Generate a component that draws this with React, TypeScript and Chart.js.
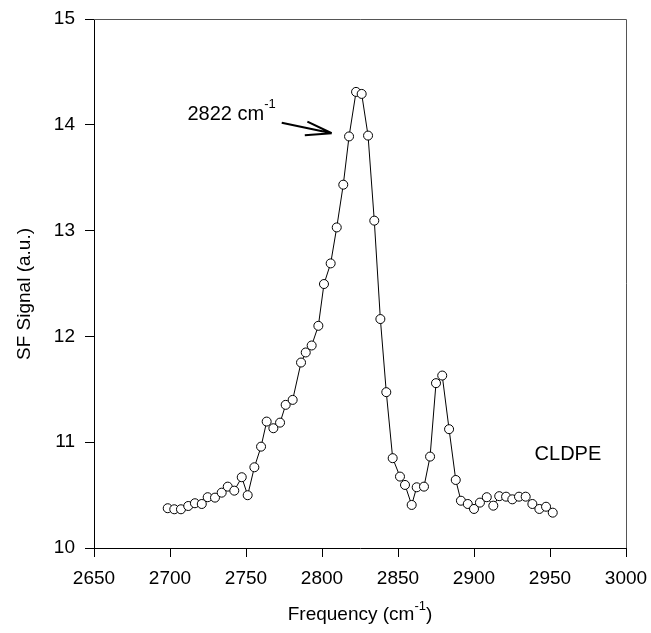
import React, { useEffect, useRef } from "react";
import { Chart, registerables } from "chart.js";

Chart.register(...registerables);

const frequency = [
  2698.5, 2702.8, 2707.2, 2712.0, 2716.4, 2720.9, 2724.8, 2729.6, 2734.0, 2738.0,
  2742.3, 2747.2, 2751.1, 2755.5, 2759.9, 2763.6, 2768.0, 2772.4, 2776.1, 2780.7,
  2786.2, 2789.3, 2793.2, 2797.6, 2801.3, 2805.7, 2809.7, 2814.0, 2817.8, 2822.4,
  2826.1, 2830.3, 2834.4, 2838.4, 2842.3, 2846.5, 2851.3, 2854.6, 2859.0, 2862.3,
  2867.1, 2871.1, 2875.0, 2879.1, 2883.6, 2888.0, 2891.4, 2895.9, 2900.0, 2903.9,
  2908.4, 2912.7, 2916.6, 2921.1, 2925.2, 2929.6, 2934.0, 2938.4, 2943.0, 2947.4,
  2951.8,
];

const signal = [
  10.376, 10.366, 10.366, 10.397, 10.423, 10.416, 10.48, 10.476, 10.523, 10.58,
  10.542, 10.669, 10.499, 10.763, 10.958, 11.195, 11.132, 11.185, 11.353, 11.4,
  11.753, 11.848, 11.914, 12.1, 12.495, 12.69, 13.03, 13.434, 13.89, 14.311,
  14.292, 13.898, 13.094, 12.164, 11.473, 10.849, 10.675, 10.596, 10.407, 10.574,
  10.58, 10.864, 11.558, 11.63, 11.123, 10.643, 10.447, 10.416, 10.369, 10.429,
  10.48, 10.4, 10.49, 10.485, 10.46, 10.485, 10.485, 10.416, 10.369, 10.39,
  10.334,
];

const xTitle = "Frequency (cm";
const xTitleSup = "-1";
const yTitle = "SF Signal (a.u.)";
const peakLabel = "2822 cm";
const peakLabelSup = "-1";
const sampleLabel = "CLDPE";

// annotation anchors in data units
const arrowTail = { x: 2773.5, y: 14.02 };
const arrowTip = { x: 2806.4, y: 13.92 };
const sampleAnchor = { x: 2961.8, y: 10.83 };

const FONT = "'Liberation Sans', Arial, sans-serif";

const overlayPlugin = {
  id: "overlay",
  afterDraw(chart: any) {
    const { ctx, chartArea, scales } = chart;
    const xs = scales.x;
    const ys = scales.y;
    ctx.save();
    // top and right frame
    ctx.strokeStyle = "#555";
    ctx.lineWidth = 1;
    ctx.beginPath();
    ctx.moveTo(chartArea.left, chartArea.top + 0.5);
    ctx.lineTo(chartArea.right + 0.5, chartArea.top + 0.5);
    ctx.lineTo(chartArea.right + 0.5, chartArea.bottom);
    ctx.stroke();

    // arrow
    const tx = xs.getPixelForValue(arrowTail.x);
    const ty = ys.getPixelForValue(arrowTail.y);
    const hx = xs.getPixelForValue(arrowTip.x);
    const hy = ys.getPixelForValue(arrowTip.y);
    ctx.strokeStyle = "#000";
    ctx.lineWidth = 2;
    ctx.beginPath();
    ctx.moveTo(tx, ty);
    ctx.lineTo(hx, hy);
    const ang = Math.atan2(ty - hy, tx - hx);
    const len = 27;
    ctx.moveTo(hx, hy);
    ctx.lineTo(hx + len * Math.cos(ang + 0.24), hy + len * Math.sin(ang + 0.24));
    ctx.moveTo(hx, hy);
    ctx.lineTo(hx + len * Math.cos(ang - 0.28), hy + len * Math.sin(ang - 0.28));
    ctx.stroke();

    // peak label
    ctx.fillStyle = "#000";
    ctx.textBaseline = "alphabetic";
    ctx.font = `13px ${FONT}`;
    const supW = ctx.measureText(peakLabelSup).width;
    const labelRight = tx - 6;
    ctx.textAlign = "left";
    ctx.fillText(peakLabelSup, labelRight - supW, ty - 15);
    ctx.font = `20px ${FONT}`;
    ctx.textAlign = "right";
    ctx.fillText(peakLabel, labelRight - supW, ty - 3);

    // sample label
    ctx.font = `20px ${FONT}`;
    ctx.textAlign = "center";
    ctx.fillText(
      sampleLabel,
      xs.getPixelForValue(sampleAnchor.x),
      ys.getPixelForValue(sampleAnchor.y)
    );

    // x title
    ctx.font = `19px ${FONT}`;
    const w1 = ctx.measureText(xTitle).width;
    const w3 = ctx.measureText(")").width;
    ctx.font = `13px ${FONT}`;
    const w2 = ctx.measureText(xTitleSup).width;
    const total = w1 + w2 + w3;
    const cx = (chartArea.left + chartArea.right) / 2;
    let sx = cx - total / 2;
    const by = 620;
    ctx.textAlign = "left";
    ctx.font = `19px ${FONT}`;
    ctx.fillText(xTitle, sx, by);
    sx += w1;
    ctx.font = `13px ${FONT}`;
    ctx.fillText(xTitleSup, sx, by - 10);
    sx += w2;
    ctx.font = `19px ${FONT}`;
    ctx.fillText(")", sx, by);

    // y title
    ctx.save();
    ctx.translate(25, 294);
    ctx.rotate(-Math.PI / 2);
    ctx.textAlign = "center";
    ctx.textBaseline = "middle";
    ctx.font = `19px ${FONT}`;
    ctx.fillText(yTitle, 0, 0);
    ctx.restore();

    ctx.restore();
  },
};

export default function App() {
  const ref = useRef<HTMLCanvasElement | null>(null);
  useEffect(() => {
    document.body.style.margin = "0";
    const canvas = ref.current;
    if (!canvas) return;
    const chart = new Chart(canvas, {
      type: "line",
      data: {
        datasets: [
          {
            data: frequency.map((f, i) => ({ x: f, y: signal[i] })),
            borderColor: "#000",
            borderWidth: 1,
            pointRadius: 4.5,
            pointBackgroundColor: "#fff",
            pointBorderColor: "#000",
            pointBorderWidth: 1,
            tension: 0,
            fill: false,
          },
        ],
      },
      options: {
        animation: false,
        responsive: false,
        maintainAspectRatio: false,
        layout: { padding: { left: 0, right: 25, top: 19, bottom: 0 } },
        plugins: {
          legend: { display: false },
          tooltip: { enabled: false },
          title: { display: false },
        },
        scales: {
          x: {
            type: "linear",
            min: 2650,
            max: 3000,
            afterFit: (s: any) => {
              s.height = 85;
              s.paddingLeft = 0;
              s.paddingRight = 0;
            },
            ticks: {
              stepSize: 50,
              color: "#000",
              font: { family: FONT, size: 19 },
              padding: 10,
              maxRotation: 0,
              callback: (v: any) => String(v),
            },
            grid: {
              drawOnChartArea: false,
              drawTicks: true,
              tickLength: 9,
              color: "#000",
            },
            border: { display: true, color: "#000", width: 1 },
          },
          y: {
            type: "linear",
            min: 10,
            max: 15,
            afterFit: (s: any) => {
              s.width = 94;
              s.paddingTop = 0;
              s.paddingBottom = 0;
            },
            ticks: {
              stepSize: 1,
              color: "#000",
              font: { family: FONT, size: 19 },
              padding: 10,
              callback: (v: any) => String(v),
            },
            grid: {
              drawOnChartArea: false,
              drawTicks: true,
              tickLength: 9,
              color: "#000",
            },
            border: { display: true, color: "#000", width: 1 },
          },
        },
      },
      plugins: [overlayPlugin],
    });
    return () => chart.destroy();
  }, []);
  return (
    <div style={{ width: 651, height: 633, background: "#fff" }}>
      <canvas ref={ref} width={651} height={633} style={{ display: "block" }} />
    </div>
  );
}
